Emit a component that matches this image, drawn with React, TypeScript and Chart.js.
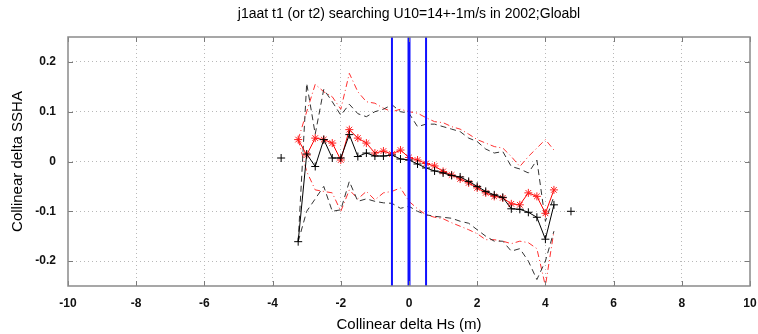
import React, { useEffect, useRef } from "react";
import { Chart, registerables } from "chart.js";

Chart.register(...registerables);

const TITLE = "j1aat t1 (or t2) searching U10=14+-1m/s in 2002;Gloabl";
const X_LABEL = "Collinear delta Hs (m)";
const Y_LABEL = "Collinear delta SSHA";

const X_MIN = -10;
const X_MAX = 10;
const Y_MIN = -0.25;
const Y_MAX = 0.25;
const X_TICKS = [-10, -8, -6, -4, -2, 0, 2, 4, 6, 8, 10];
const Y_TICKS = [-0.2, -0.1, 0, 0.1, 0.2];
const BLUE_X = [-0.5, 0, 0.5];
const BLUE_W = [2, 3, 2];

const XS = [
  -3.75, -3.5, -3.25, -3, -2.75, -2.5, -2.25, -2, -1.75, -1.5, -1.25, -1, -0.75, -0.5, -0.25, 0,
  0.25, 0.5, 0.75, 1, 1.25, 1.5, 1.75, 2, 2.25, 2.5, 2.75, 3, 3.25, 3.5, 3.75, 4, 4.25, 4.5, 4.75,
];

const BLACK_MEAN = [
  0.007, null, -0.161, 0.015, -0.01, 0.044, 0.007, 0.007, 0.054, 0.01, 0.017, 0.011, 0.011, 0.013,
  0.005, 0.003, -0.005, -0.013, -0.019, -0.023, -0.028, -0.031, -0.04, -0.05, -0.06, -0.067, -0.072,
  -0.095, -0.096, -0.102, -0.112, -0.156, -0.087, null, -0.1,
];

const RED_MEAN = [
  null, null, 0.044, 0.013, 0.047, 0.044, 0.037, 0.003, 0.064, 0.047, 0.037, 0.017, 0.021, 0.015,
  0.023, 0.008, 0.003, -0.004, -0.009, -0.02, -0.027, -0.035, -0.043, -0.053, -0.063, -0.07, -0.073,
  -0.085, -0.087, -0.063, -0.07, -0.104, -0.057, null, null,
];

const BLACK_UPPER = [
  null, null, -0.161, 0.157, 0.055, 0.145, 0.12, 0.093, 0.115, 0.096, 0.09, 0.1, 0.105, 0.114, 0.1,
  0.097, 0.07, 0.075, 0.075, 0.07, 0.065, 0.06, 0.047, 0.04, 0.025, 0.017, 0.02, -0.01, -0.015,
  -0.023, 0.003, -0.12, -0.07, null, null,
];

const BLACK_LOWER = [
  null, null, -0.161, -0.1, -0.075, -0.05, -0.1, -0.097, -0.04, -0.08, -0.075, -0.08, -0.083,
  -0.084, -0.094, -0.09, -0.1, -0.107, -0.11, -0.112, -0.114, -0.12, -0.124, -0.137, -0.15, -0.16,
  -0.16, -0.18, -0.175, -0.2, -0.237, -0.2, -0.14, null, null,
];

const RED_UPPER = [
  null, null, 0.044, 0.1, 0.155, 0.14, 0.13, 0.105, 0.177, 0.14, 0.12, 0.117, 0.107, 0.1, 0.105,
  0.1, 0.097, 0.088, 0.08, 0.078, 0.07, 0.065, 0.055, 0.044, 0.037, 0.03, 0.027, 0.01, -0.01, 0.01,
  0.027, 0.044, 0.023, null, null,
];

const RED_LOWER = [
  null, null, 0.044, -0.02, -0.057, -0.06, -0.063, -0.1, -0.057, -0.075, -0.06, -0.077, -0.063,
  -0.06, -0.053, -0.08, -0.095, -0.107, -0.112, -0.115, -0.123, -0.13, -0.137, -0.145, -0.157,
  -0.157, -0.16, -0.165, -0.16, -0.163, -0.175, -0.25, -0.14, null, null,
];

const FONT = "'Liberation Sans', Arial, Helvetica, sans-serif";

function pts(ys: (number | null)[]) {
  return XS.map((x, i) => ({ x, y: ys[i] }));
}

const boxPlugin = {
  id: "matlabBox",
  afterDraw(chart: any) {
    const { ctx, chartArea } = chart;
    const { left, right, top, bottom } = chartArea;
    const xs = chart.scales.x;
    const ys = chart.scales.y;
    ctx.save();
    ctx.strokeStyle = "#7a7a7a";
    ctx.lineWidth = 1;
    ctx.setLineDash([]);
    ctx.beginPath();
    const tl = 5;
    X_TICKS.forEach((v) => {
      const px = Math.round(xs.getPixelForValue(v)) + 0.5;
      ctx.moveTo(px, bottom);
      ctx.lineTo(px, bottom - tl);
      ctx.moveTo(px, top);
      ctx.lineTo(px, top + tl);
    });
    Y_TICKS.forEach((v) => {
      const py = Math.round(ys.getPixelForValue(v)) + 0.5;
      ctx.moveTo(left, py);
      ctx.lineTo(left + tl, py);
      ctx.moveTo(right, py);
      ctx.lineTo(right - tl, py);
    });
    ctx.stroke();
    ctx.lineWidth = 1.5;
    ctx.strokeStyle = "#8a8a8a";
    ctx.strokeRect(left, top, right - left, bottom - top);
    // title
    ctx.fillStyle = "#000";
    ctx.font = `14px ${FONT}`;
    ctx.textAlign = "center";
    ctx.textBaseline = "middle";
    ctx.fillText(TITLE, (left + right) / 2, 14);
    ctx.restore();
  },
};

export default function App() {
  const ref = useRef<HTMLCanvasElement | null>(null);
  useEffect(() => {
    document.body.style.margin = "0";
    if (!ref.current) return;
    const blueSets = BLUE_X.map((bx, i) => ({
      label: "blue" + i,
      data: [
        { x: bx, y: Y_MIN },
        { x: bx, y: Y_MAX },
      ],
      borderColor: "#1010ff",
      borderWidth: BLUE_W[i],
      pointRadius: 0,
      showLine: true,
    }));
    const chart = new Chart(ref.current, {
      type: "scatter",
      data: {
        datasets: [
          ...blueSets,
          {
            label: "black mean",
            data: pts(BLACK_MEAN),
            showLine: true,
            spanGaps: false,
            borderColor: "#000",
            borderWidth: 1,
            pointStyle: "cross",
            pointRadius: 4,
            pointBorderColor: "#000",
            pointBorderWidth: 1,
          },
          {
            label: "red mean",
            data: pts(RED_MEAN),
            showLine: true,
            spanGaps: false,
            borderColor: "#ff0000",
            borderWidth: 1,
            pointStyle: "star",
            pointRadius: 4,
            pointBorderColor: "#ff2020",
            pointBorderWidth: 1,
          },
          {
            label: "black upper",
            data: pts(BLACK_UPPER),
            showLine: true,
            borderColor: "#333",
            borderWidth: 1,
            borderDash: [6, 4],
            pointRadius: 0,
          },
          {
            label: "black lower",
            data: pts(BLACK_LOWER),
            showLine: true,
            borderColor: "#333",
            borderWidth: 1,
            borderDash: [6, 4],
            pointRadius: 0,
          },
          {
            label: "red upper",
            data: pts(RED_UPPER),
            showLine: true,
            borderColor: "#ff3030",
            borderWidth: 1,
            borderDash: [6, 3, 1, 3],
            pointRadius: 0,
          },
          {
            label: "red lower",
            data: pts(RED_LOWER),
            showLine: true,
            borderColor: "#ff3030",
            borderWidth: 1,
            borderDash: [6, 3, 1, 3],
            pointRadius: 0,
          },
        ],
      },
      options: {
        animation: false,
        responsive: false,
        devicePixelRatio: 1,
        layout: { padding: { top: 37, right: 0, left: 0, bottom: 0 } },
        plugins: {
          legend: { display: false },
          tooltip: { enabled: false },
          title: { display: false },
        },
        elements: { line: { tension: 0 } },
        scales: {
          x: {
            type: "linear",
            min: X_MIN,
            max: X_MAX,
            afterBuildTicks: (s: any) => {
              s.ticks = X_TICKS.map((v) => ({ value: v }));
            },
            afterFit: (s: any) => {
              s.height = 48;
              s.paddingRight = 8;
              s.paddingLeft = 0;
            },
            ticks: {
              padding: 10,
              color: "#111",
              font: { family: FONT, size: 12, weight: "bold" },
              maxRotation: 0,
              autoSkip: false,
              callback: (v: any) => String(v),
            },
            grid: {
              drawTicks: false,
              color: (c: any) =>
                c.tick && (c.tick.value === X_MIN || c.tick.value === X_MAX) ? "rgba(0,0,0,0)" : "#b8b8b8",
              lineWidth: 1,
            },
            border: { display: false, dash: [1, 3] },
            title: {
              display: true,
              text: X_LABEL,
              color: "#000",
              font: { family: FONT, size: 15 },
              padding: { top: 0, bottom: 0 },
            },
          },
          y: {
            type: "linear",
            min: Y_MIN,
            max: Y_MAX,
            afterBuildTicks: (s: any) => {
              s.ticks = Y_TICKS.map((v) => ({ value: v }));
            },
            afterFit: (s: any) => {
              s.width = 68;
            },
            ticks: {
              padding: 12,
              color: "#111",
              font: { family: FONT, size: 12, weight: "bold" },
              autoSkip: false,
              callback: (v: any) => String(Math.round(v * 10) / 10),
            },
            grid: {
              drawTicks: false,
              color: "#b8b8b8",
              lineWidth: 1,
            },
            border: { display: false, dash: [1, 3] },
            title: {
              display: true,
              text: Y_LABEL,
              color: "#000",
              font: { family: FONT, size: 15 },
              padding: { top: 9, bottom: 0 },
            },
          },
        },
      },
      plugins: [boxPlugin],
    } as any);
    return () => chart.destroy();
  }, []);
  return <canvas ref={ref} width={758} height={334} style={{ display: "block" }} />;
}
